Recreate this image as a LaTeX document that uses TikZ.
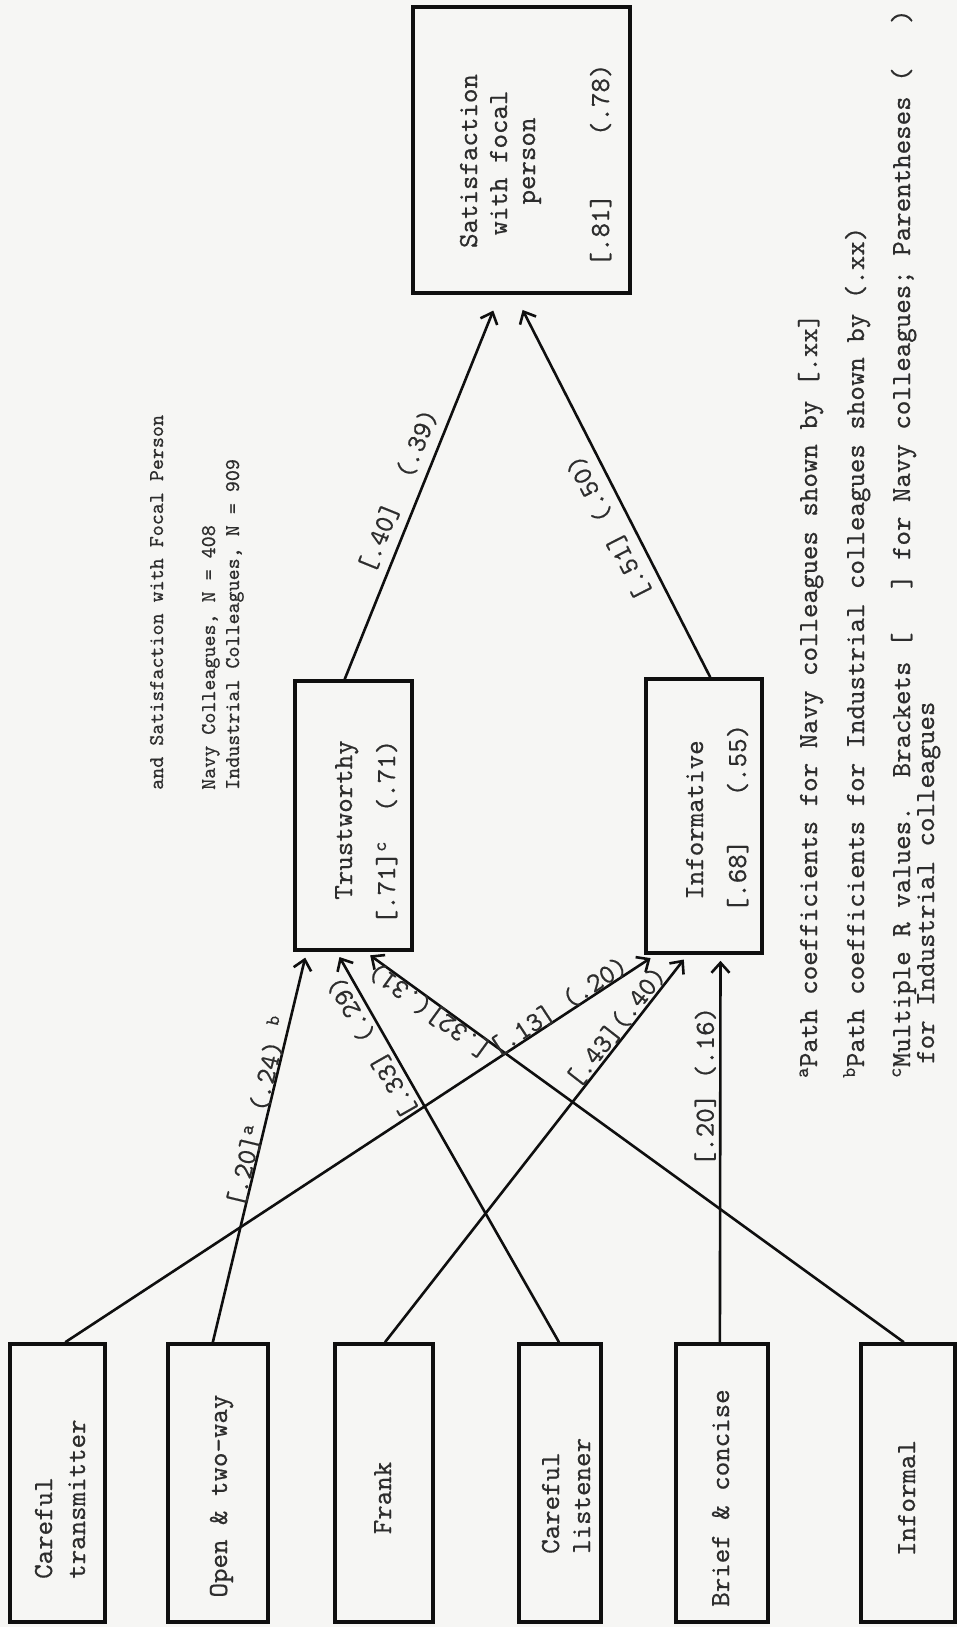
\documentclass[tikz,border=0pt]{standalone}
\usepackage{fontspec}
\setmonofont{lmmono10-regular.otf}[FakeBold=0.5]
\usetikzlibrary{arrows.meta,calc}
\definecolor{paper}{RGB}{246,246,244}
\definecolor{ink}{RGB}{15,15,15}
\definecolor{typed}{RGB}{45,45,45}
\tikzset{
  box/.style={draw=ink, line width=3.6pt, inner sep=0pt},
  typeface/.style={font=\fontsize{27.6}{31}\selectfont\ttfamily, text=typed},
  smalltype/.style={font=\fontsize{21}{24}\selectfont\ttfamily, text=typed},
  txt/.style={typeface, rotate=90, inner sep=0pt},
  link/.style={draw=ink, line width=2.6pt,
    -{Straight Barb[length=10pt,width=18pt,line width=2.6pt]}, shorten >=6pt},
  coef/.style={typeface, sloped, allow upside down, inner sep=0pt},
}
\begin{document}
\begin{tikzpicture}[x=1pt,y=-1pt]
\fill[paper] (0,0) rectangle (957,1627);
\useasboundingbox (0,0) rectangle (957,1627);

% header lines
\node[txt, smalltype, anchor=base west] (h1) at (163,790) {and Satisfaction with Focal Person};
\node[txt, smalltype, anchor=base west] (h2) at (215,790) {Navy Colleagues, N = 408};
\node[txt, smalltype, anchor=base west] (h3) at (239,790) {Industrial Colleagues, N = 909};

% outcome box
\node[box, minimum width=217pt, minimum height=286pt] (Sat) at (521.5,150) {};
\node[txt, anchor=base] (Sat-1) at (477,161) {Satisfaction};
\node[txt, anchor=base] (Sat-2) at (507,163) {with focal};
\node[txt, anchor=base] (Sat-3) at (535,161) {person};
\node[txt, anchor=base] (Sat-4) at (609,165) {[.81]~~~~(.78)};

% mediating boxes
\node[box, minimum width=117pt, minimum height=269pt] (T) at (353.5,815.5) {};
\node[txt, anchor=base] (T-1) at (352,820) {Trustworthy};
\node[txt, anchor=base] (T-2) at (395,832) {[.71]\textsuperscript{c}~~(.71)};

\node[box, minimum width=116pt, minimum height=274pt] (I) at (704,816) {};
\node[txt, anchor=base] (I-1) at (703,820) {Informative};
\node[txt, anchor=base] (I-2) at (746,818) {[.68]~~~(.55)};

% predictor boxes
\node[box, minimum width=95pt,  minimum height=278pt] (CT) at (57.5,1483) {};
\node[box, minimum width=100pt, minimum height=278pt] (OT) at (218,1483) {};
\node[box, minimum width=98pt,  minimum height=278pt] (FR) at (384,1483) {};
\node[box, minimum width=82pt,  minimum height=278pt] (CL) at (560,1483) {};
\node[box, minimum width=92pt,  minimum height=278pt] (BC) at (722,1483) {};
\node[box, minimum width=94pt,  minimum height=278pt] (IF) at (908,1483) {};

\node[txt, anchor=base west] (CT-1) at (52,1579) {Careful};
\node[txt, anchor=base west] (CT-2) at (85,1579) {transmitter};
\node[txt, anchor=base] (OT-1) at (227,1496) {Open \& two-way};
\node[txt, anchor=base] (FR-1) at (391,1498) {Frank};
\node[txt, anchor=base west] (CL-1) at (559,1554) {Careful};
\node[txt, anchor=base west] (CL-2) at (590,1554) {listener};
\node[txt, anchor=base] (BC-1) at (729,1498) {Brief \& concise};
\node[txt, anchor=base] (IF-1) at (915,1498) {Informal};

% paths into Trustworthy
\draw[link] ($(OT.north west)!0.45!(OT.north east)$)
  -- node[coef, pos=0.585, above=-2pt] (l-ot) {[.20]\textsuperscript{a} (.24) \textsuperscript{b}}
  ($(T.south west)!0.111!(T.south east)$);
\draw[link] ($(CL.north west)!0.488!(CL.north east)$)
  -- node[coef, pos=0.775, above=4pt] (l-cl) {[.33] (.29)}
  ($(T.south west)!0.359!(T.south east)$);
\draw[link] ($(IF.north west)!0.457!(IF.north east)$)
  -- node[coef, pos=0.87, above=-2pt] (l-if) {[.32](.31)}
  ($(T.south west)!0.598!(T.south east)$);

% paths into Informative
\draw[link] ($(CT.north west)!0.579!(CT.north east)$)
  -- node[coef, pos=0.845, above=-2pt] (l-ct) {[.13] (.20)}
  ($(I.south west)!0.095!(I.south east)$);
\draw[link] ($(FR.north west)!0.51!(FR.north east)$)
  -- node[coef, pos=0.795, above=0pt] (l-fr) {[.43](.40)}
  ($(I.south west)!0.362!(I.south east)$);
\draw[link] ($(BC.north west)!0.478!(BC.north east)$)
  -- node[coef, pos=0.66, above=3pt] (l-bc) {[.20] (.16)}
  ($(I.south west)!0.638!(I.south east)$);

% paths into satisfaction
\draw[link, shorten >=17pt] ($(T.north west)!0.427!(T.north east)$)
  -- node[coef, pos=0.47, above=9pt] (l-ts) {[.40]~~(.39)}
  ($(Sat.south west)!0.401!(Sat.south east)$);
\draw[link, shorten >=17pt] ($(I.north west)!0.552!(I.north east)$)
  -- node[coef, pos=0.417, above=10pt] (l-is) {[.51] (.50)}
  ($(Sat.south west)!0.470!(Sat.south east)$);

% notes
\node[txt, anchor=base west] (fn-a) at (817,1078) {\textsuperscript{a}Path coefficients for Navy colleagues shown by [.xx]};
\node[txt, anchor=base west] (fn-b) at (864,1078) {\textsuperscript{b}Path coefficients for Industrial colleagues shown by (.xx)};
\node[txt, anchor=base west] (fn-c) at (910,1078) {\textsuperscript{c}Multiple R values.~~Brackets [~~~] for Navy colleagues; Parentheses (~~~)};
\node[txt, anchor=base west] (fn-d) at (934,1064) {for Industrial colleagues};
\end{tikzpicture}
\end{document}
